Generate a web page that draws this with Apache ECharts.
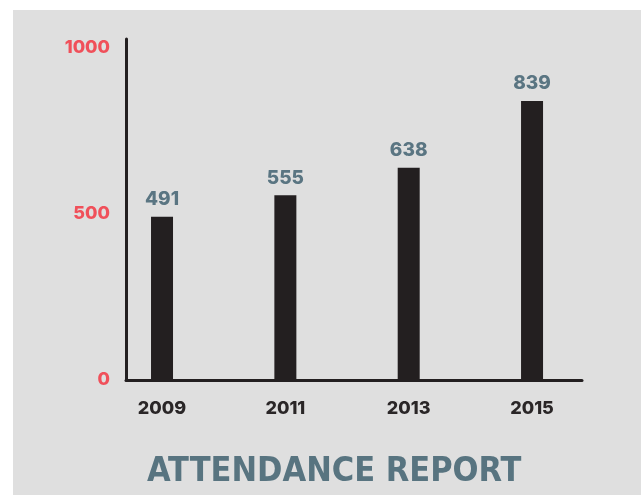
<!DOCTYPE html>
<html><head><meta charset="utf-8">
<script src="https://cdn.jsdelivr.net/npm/echarts@6/dist/echarts.min.js"></script>
<style>
html,body{margin:0;padding:0;background:#ffffff;}
#c{position:absolute;left:13px;top:10px;width:628px;height:485px;background:#dfdfdf;}
</style></head>
<body><div id="c"></div>
<script>
const years = [2009, 2011, 2013, 2015];
const attendance = [491, 555, 638, 839];
const yTicks = [0, 500, 1000];
const title = 'ATTENDANCE REPORT';

const chart = echarts.init(document.getElementById('c'), null, {renderer: 'canvas'});
chart.setOption({
  backgroundColor: '#dfdfdf',
  animation: false,
  title: {
    text: title, left: 129, top: 440,
    textStyle: {fontFamily: 'DejaVu Sans Condensed', fontWeight: 'bold', fontSize: 34, color: '#587480'}
  },
  grid: {left: 113, top: 29, right: 59, bottom: 115},
  xAxis: {
    type: 'value', min: 2008.416, max: 2015.81,
    splitLine: {show: false},
    axisLine: {show: true, lineStyle: {color: '#231f20', width: 3}},
    axisTick: {show: false},
    axisLabel: {customValues: years, margin: 20, color: '#2a2627', fontFamily: 'Inter', fontWeight: 800, fontSize: 18, formatter: v => String(v)}
  },
  yAxis: {
    type: 'value', min: 0, max: 1025,
    splitLine: {show: false},
    axisLine: {show: true, lineStyle: {color: '#231f20', width: 3}},
    axisTick: {show: false},
    axisLabel: {customValues: yTicks, margin: 16, color: '#f0505a', fontFamily: 'Inter', fontWeight: 800, fontSize: 18, formatter: v => String(v)}
  },
  series: [{
    type: 'bar',
    barWidth: 22,
    data: years.map((y, i) => [y, attendance[i]]),
    itemStyle: {color: '#231f20'},
    label: {show: true, position: 'top', distance: 8, color: '#5a7582', fontFamily: 'Inter', fontWeight: 800, fontSize: 19,
      formatter: p => String(p.value[1])}
  }]
});
</script></body></html>
